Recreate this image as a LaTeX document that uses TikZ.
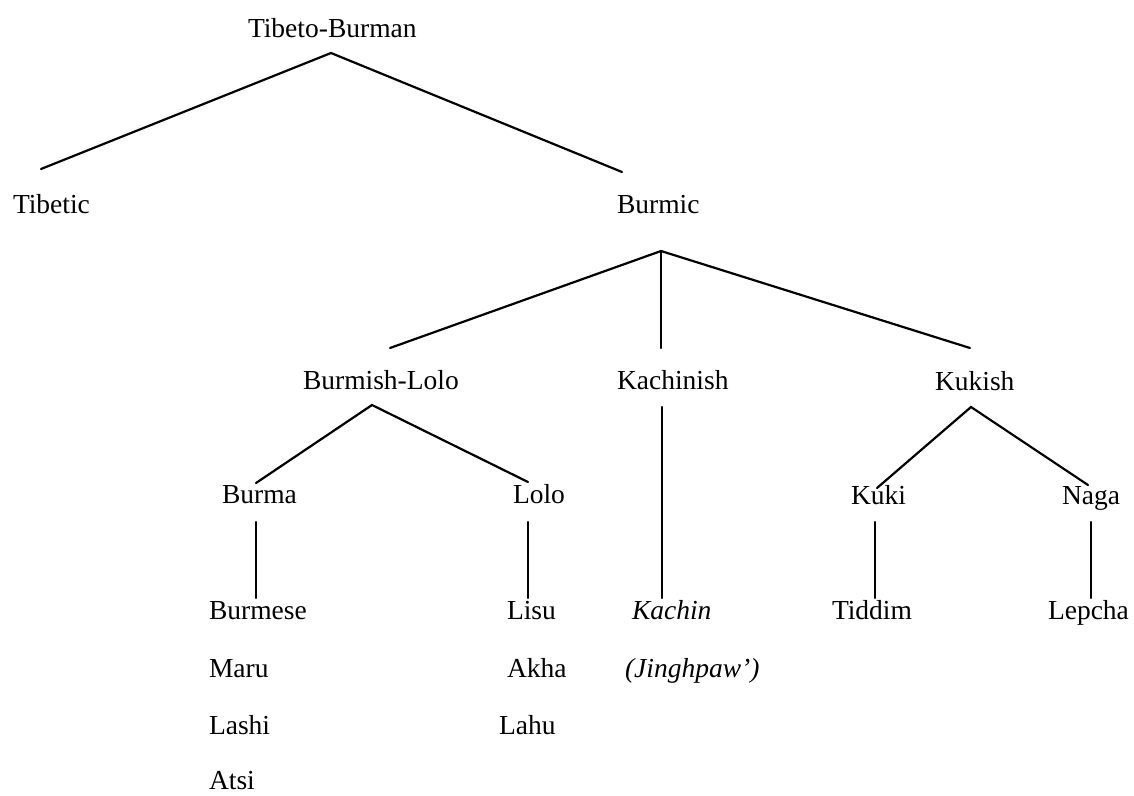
\documentclass[tikz,border=0pt]{standalone}
\usepackage{fontspec}
\setmainfont{Liberation Serif}
\begin{document}
\begin{tikzpicture}[x=1pt,y=-1pt,
  lbl/.style={anchor=base west,inner sep=0pt,outer sep=0pt,font=\fontsize{27.5}{33}\selectfont},
  ilbl/.style={lbl,font=\fontsize{27.5}{33}\selectfont\itshape},
  branch/.style={draw=black,line width=2.2pt,line cap=round}]
\useasboundingbox (0,0) rectangle (1134,795);
% labels
\node[lbl] (tb) at (248,37) {Tibeto-Burman};
\node[lbl] (tibetic) at (13,213) {Tibetic};
\node[lbl] (burmic) at (617,213) {Burmic};
\node[lbl] (bl) at (303,389) {Burmish-Lolo};
\node[lbl] (kachinish) at (617,389) {Kachinish};
\node[lbl] (kukish) at (935,390) {Kukish};
\node[lbl] (burma) at (222,503) {Burma};
\node[lbl] (lolo) at (513,503) {Lolo};
\node[lbl] (kuki) at (851,504) {Kuki};
\node[lbl] (naga) at (1062,504) {Naga};
\node[lbl] (burmese) at (209,619) {Burmese};
\node[lbl] (maru) at (209,677) {Maru};
\node[lbl] (lashi) at (209,734) {Lashi};
\node[lbl] (atsi) at (209,789) {Atsi};
\node[lbl] (lisu) at (507,619) {Lisu};
\node[lbl] (akha) at (507,677) {Akha};
\node[lbl] (lahu) at (499,734) {Lahu};
\node[ilbl] (kachin) at (632,619) {Kachin};
\node[ilbl] (jinghpaw) at (625,677) {(Jinghpaw’)};
\node[lbl] (tiddim) at (832,619) {Tiddim};
\node[lbl] (lepcha) at (1048,619) {Lepcha};
% connector end points
\coordinate (tbA) at (331,53);
\coordinate (tibeticT) at (41,169);
\coordinate (burmicT) at (622,172);
\coordinate (burmicA) at (661,251);
\coordinate (blT) at (390,348);
\coordinate (kachinishT) at (661,348);
\coordinate (kukishT) at (970,348);
\coordinate (blA) at (372,405);
\coordinate (burmaT) at (256,483);
\coordinate (loloT) at (528,482);
\coordinate (burmaA) at (256,522);
\coordinate (burmeseT) at (256,598);
\coordinate (loloA) at (528,522);
\coordinate (lisuT) at (528,598);
\coordinate (kachinishA) at (662,407);
\coordinate (kachinT) at (662,598);
\coordinate (kukishA) at (971,407);
\coordinate (kukiT) at (877,488);
\coordinate (nagaT) at (1088,485);
\coordinate (kukiA) at (875,522);
\coordinate (tiddimT) at (875,598);
\coordinate (nagaA) at (1091,522);
\coordinate (lepchaT) at (1091,598);
% branches
\draw[branch] (tibeticT) -- (tbA) -- (burmicT);
\draw[branch] (blT) -- (burmicA) -- (kukishT);
\draw[branch] (burmicA) -- (kachinishT);
\draw[branch] (burmaT) -- (blA) -- (loloT);
\draw[branch] (burmaA) -- (burmeseT);
\draw[branch] (loloA) -- (lisuT);
\draw[branch] (kachinishA) -- (kachinT);
\draw[branch] (kukiT) -- (kukishA) -- (nagaT);
\draw[branch] (kukiA) -- (tiddimT);
\draw[branch] (nagaA) -- (lepchaT);
\end{tikzpicture}
\end{document}
